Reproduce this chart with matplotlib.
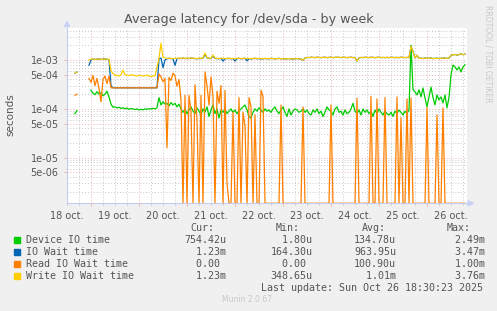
import numpy as np
import matplotlib
matplotlib.use("Agg")
import matplotlib.pyplot as plt
import matplotlib.dates as mdates
from matplotlib.ticker import FixedLocator, FuncFormatter, NullFormatter
from matplotlib.patches import Rectangle, Polygon

# hourly samples (microseconds), None = no data, 0 = zero
device_io = [
    None, None, None, None, 80, 92, None, None, None, None,
    None, None, 240, 210, 195, 225, 200, 215, 185, 200,
    230, 175, 125, 108, 110, 105, 108, 102, 106, 100,
    104, 98, 102, 100, 97, 100, 95, 98, 96, 100,
    98, 101, 100, 103, 100, 105, 170, 120, 140, 125,
    130, 115, 135, 120, 130, 110, 125, 100, 85, 100,
    80, 95, 110, 90, 80, 105, 90, 75, 100, 85,
    110, 70, 95, 120, 80, 100, 65, 95, 85, 100,
    80, 90, 100, 85, 95, 80, 90, 100, 110, 120,
    95, 70, 65, 85, 100, 90, 105, 95, 85, 100,
    90, 95, 85, 100, 110, 90, 80, 95, 110, 85,
    70, 100, 75, 90, 100, 95, 85, 90, 100, 85,
    95, 80, 75, 95, 85, 100, 80, 90, 70, 85,
    110, 95, 90, 75, 100, 110, 85, 90, 75, 95,
    80, 85, 100, 130, 90, 80, 95, 75, 100, 85,
    95, 80, 90, 70, 95, 80, 100, 85, 75, 90,
    80, 75, 85, 70, 90, 80, 95, 85, 75, 90,
    80, 95, 2000, 250, 222, 193, 245, 176, 268, 168,
    110, 176, 280, 170, 121, 193, 153, 176, 132, 193,
    105, 170, 500, 790, 720, 625, 720, 570, 720, 800,
]

io_wait = [
    None, None, None, None, 540, 570, None, None, None, None,
    None, 780, 1000, 1040, 1030, 1040, 1050, 1030, 1040, 1050,
    1040, 1000, 300, 270, 270, 270, 270, 270, 270, 270,
    270, 270, 270, 270, 270, 270, 270, 270, 270, 270,
    270, 270, 270, 270, 270, 270, 1050, 1100, 700, 1000,
    1060, 1080, 1070, 1060, 780, 1070, 1080, 1070, 1090, 1070,
    1080, 1070, 1090, 1080, 1070, 1060, 1080, 1070, 1090, 1300,
    1110, 1080, 1070, 1200, 1080, 1070, 1060, 1080, 950, 1060,
    1070, 1080, 1060, 1070, 950, 1070, 1080, 1060, 1070, 1080,
    960, 1070, 1050, 1070, 1080, 1060, 1070, 1050, 1060, 1070,
    1070, 1060, 1080, 1070, 1060, 1070, 1080, 1060, 1070, 1050,
    1060, 1070, 1060, 1050, 1060, 1070, 1060, 1050, 990, 1100,
    1130, 1120, 1140, 1130, 1120, 1140, 1130, 1120, 1130, 1140,
    1120, 1130, 1140, 1120, 1130, 1140, 1130, 1120, 1140, 1130,
    1120, 1130, 1140, 1120, 1130, 950, 1100, 1130, 1120, 1140,
    1130, 1120, 1140, 1130, 1120, 1130, 1140, 1120, 1130, 1120,
    1130, 1120, 1140, 1130, 1120, 1130, 1120, 1140, 1130, 1120,
    1130, 1120, 1900, 1500, 1100, 1250, 1080, 1090, 1070, 1100,
    1080, 1090, 1100, 1070, 1080, 1090, 1070, 1080, 1100, 1090,
    1080, 1090, 1250, 1280, 1300, 1260, 1290, 1350, 1280, 1320,
]

read_wait = [
    None, None, None, None, 190, 200, None, None, None, None,
    None, 420, 350, 480, 300, 420, 260, 140, 400, 470,
    330, 470, 270, 270, 270, 270, 270, 270, 270, 270,
    270, 270, 270, 270, 270, 270, 270, 270, 270, 270,
    270, 270, 270, 270, 270, 270, 520, 450, 360, 420,
    16, 440, 380, 540, 470, 290, 400, 150, 0, 190,
    0, 190, 90, 0, 310, 60, 0, 190, 0, 570,
    300, 120, 450, 180, 0, 230, 130, 300, 0, 240,
    3, 0, 0, 85, 0, 0, 170, 0, 85, 45,
    0, 170, 110, 0, 75, 0, 0, 240, 180, 0,
    0, 0, 0, 0, 0, 0, 0, 120, 0, 0,
    0, 0, 0, 0, 0, 0, 0, 0, 110, 0,
    0, 0, 0, 0, 0, 0, 0, 0, 0, 0,
    0, 0, 120, 0, 0, 0, 0, 0, 0, 0,
    0, 0, 0, 0, 0, 165, 0, 0, 0, 0,
    0, 0, 180, 0, 0, 160, 0, 0, 0, 170,
    0, 0, 0, 0, 0, 175, 0, 66, 0, 0,
    160, 0, 168, 0, 0, 0, 0, 0, 0, 0,
    105, 0, 0, 0, 0, 75, 0, 0, 105, 0,
    0, 0, 0, 0, 0, 0, 0, 0, 0, 0,
]

write_wait = [
    None, None, None, None, 540, 570, None, None, None, None,
    None, 1000, 1040, 1050, 1030, 1040, 1050, 1030, 1040, 1050,
    1040, 1030, 600, 530, 490, 480, 470, 500, 620, 500,
    490, 480, 500, 490, 480, 470, 490, 480, 470, 480,
    490, 470, 460, 470, 480, 700, 1100, 2200, 1150, 1100,
    1080, 1090, 1080, 1070, 1090, 1080, 1090, 1080, 1100, 1080,
    1090, 1080, 1100, 1090, 1080, 1070, 1090, 1080, 1100, 1390,
    1120, 1090, 1080, 1265, 1090, 1080, 1070, 1090, 1080, 1070,
    1080, 1090, 1070, 1080, 1060, 1080, 1090, 1070, 1080, 1090,
    1070, 1080, 1060, 1080, 1090, 1070, 1080, 1060, 1070, 1080,
    1070, 1060, 1080, 1070, 1060, 1070, 1080, 1060, 1070, 1050,
    1060, 1070, 1060, 1050, 1060, 1070, 1060, 1050, 990, 1100,
    1130, 1120, 1140, 1130, 1120, 1140, 1130, 1120, 1130, 1140,
    1120, 1130, 1140, 1120, 1130, 1140, 1130, 1120, 1140, 1130,
    1120, 1130, 1140, 1120, 1130, 950, 1100, 1130, 1120, 1140,
    1130, 1120, 1140, 1130, 1120, 1130, 1140, 1120, 1130, 1120,
    1130, 1120, 1140, 1130, 1120, 1130, 1120, 1140, 1130, 1120,
    1130, 1120, 1900, 1500, 1100, 1250, 1080, 1090, 1070, 1100,
    1080, 1090, 1100, 1070, 1080, 1090, 1070, 1080, 1100, 1090,
    1080, 1090, 1250, 1280, 1300, 1260, 1290, 1350, 1280, 1320,
]

labels = ["Device IO time", "IO Wait time", "Read IO Wait time", "Write IO Wait time"]
colors = ["#00CC00", "#0066B3", "#FF8000", "#FFCC00"]
cur = ["754.42u", "  1.23m", "  0.00 ", "  1.23m"]
mins = ["  1.80u", "164.30u", "  0.00 ", "348.65u"]
avgs = ["134.78u", "963.95u", "100.90u", "  1.01m"]
maxs = ["  2.49m", "  3.47m", "  1.00m", "  3.76m"]

start = np.datetime64("2025-10-18T11:58")
times = start + np.arange(len(device_io)) * np.timedelta64(1, "h")
end = start + np.timedelta64(200, "h")

ymin, ymax = 1.17e-6, 4.52e-3

W, H = 497, 311
fig = plt.figure(figsize=(W / 100, H / 100), dpi=100, facecolor="#F0F0F0")
ax = fig.add_axes([67 / W, 1 - 203.3 / H, 400 / W, 175.3 / H])
ax.set_facecolor("white")

series = [device_io, io_wait, read_wait, write_wait]
for vals, col in zip(series, colors):
    y = np.array(vals, dtype=float) * 1e-6
    y[y == 0] = ymin
    ax.plot(times, y, color=col, lw=0.9, zorder=3)

ax.set_yscale("log")
ax.set_ylim(ymin, ymax)
ax.set_xlim(start, end)

# y grid
major_y = [5e-6, 1e-5, 5e-5, 1e-4, 5e-4, 1e-3]
minor_y = [k * 10.0 ** n for n in range(-6, -2) for k in (1, 2, 3, 4, 6, 7, 8, 9)
           if ymin < k * 10.0 ** n < ymax]
ax.yaxis.set_major_locator(FixedLocator(major_y))
ax.yaxis.set_minor_locator(FixedLocator(minor_y))
ax.yaxis.set_major_formatter(FuncFormatter(lambda v, p: f"{v:.0e}"))
ax.yaxis.set_minor_formatter(NullFormatter())

# x grid: red at midnight, grey every 6h, labels at noon
ax.xaxis.set_major_locator(mdates.DayLocator())
ax.xaxis.set_minor_locator(mdates.HourLocator(byhour=[0, 6, 12, 18]))
ax.xaxis.set_major_formatter(NullFormatter())


def noon_label(v, p):
    d = mdates.num2date(v)
    return f"{d.day} oct." if d.hour == 12 else ""


ax.xaxis.set_minor_formatter(FuncFormatter(noon_label))

grid_red = "#F0B4B4"
grid_grey = "#C8C8C8"
ax.grid(which="major", color=grid_red, linestyle=(0, (1, 2)), lw=0.7, zorder=1)
ax.grid(which="minor", color=grid_grey, linestyle=(0, (1, 2)), lw=0.7, zorder=1)

txt = "#555555"
ax.tick_params(axis="y", which="major", labelsize=7, colors=grid_red, labelcolor=txt,
               length=2, width=0.7, pad=4)
ax.tick_params(axis="y", which="minor", length=0)
ax.tick_params(axis="x", which="major", length=2, width=0.7, colors=grid_red)
ax.tick_params(axis="x", which="minor", labelsize=7, labelcolor=txt, colors=grid_grey,
               length=1.5, width=0.7, pad=4)

for s in ["top", "right"]:
    ax.spines[s].set_visible(False)
for s in ["left", "bottom"]:
    ax.spines[s].set_color("#C8CCEC")
    ax.spines[s].set_linewidth(0.8)


def fx(x):
    return x / W


def fy(y):
    return 1 - y / H


# axis arrows
arrow_col = "#C8D0F4"
fig.add_artist(Polygon([(fx(64.5), fy(26.5)), (fx(69.5), fy(26.5)), (fx(67), fy(21.5))],
                       closed=True, color=arrow_col, transform=fig.transFigure))
fig.add_artist(Polygon([(fx(468), fy(200.8)), (fx(468), fy(205.8)), (fx(473.5), fy(203.3))],
                       closed=True, color=arrow_col, transform=fig.transFigure))

fig.text(0.5, fy(22.5), "Average latency for /dev/sda - by week", ha="center", va="baseline",
         fontsize=9.2, color="#555555")
fig.text(fx(10), fy(115), "seconds", rotation=90, ha="center", va="center", fontsize=7.5,
         color="#555555")
fig.text(fx(488), fy(5), "RRDTOOL / TOBI OETIKER", rotation=270, ha="center", va="top",
         fontsize=5.5, color="#C8C8C8")

mono = "DejaVu Sans Mono"
fs = 7.2
for x, h in zip([190.7, 276, 361.7, 446.7], ["Cur:", "Min:", "Avg:", "Max:"]):
    fig.text(fx(x), fy(230.7), h, family=mono, fontsize=fs, color=txt, va="baseline")

for k in range(4):
    base = 243.3 + 12 * k
    fig.add_artist(Rectangle((fx(14), fy(base - 0.3)), fx(6), 6 / H, color=colors[k],
                             transform=fig.transFigure))
    fig.text(fx(26), fy(base), labels[k], family=mono, fontsize=fs, color=txt, va="baseline")
    for x, col in zip([184.3, 270.3, 354, 443], [cur, mins, avgs, maxs]):
        fig.text(fx(x), fy(base), col[k], family=mono, fontsize=fs, color=txt, va="baseline")

fig.text(fx(482.7), fy(290.7), "Last update: Sun Oct 26 18:30:23 2025", family=mono,
         fontsize=fs, color=txt, ha="right", va="baseline")
fig.text(fx(247.5), fy(302), "Munin 2.0.67", fontsize=5.5, color="#C8C8C8", ha="center",
         va="baseline")

fig.savefig("out.png", dpi=100, facecolor=fig.get_facecolor())
